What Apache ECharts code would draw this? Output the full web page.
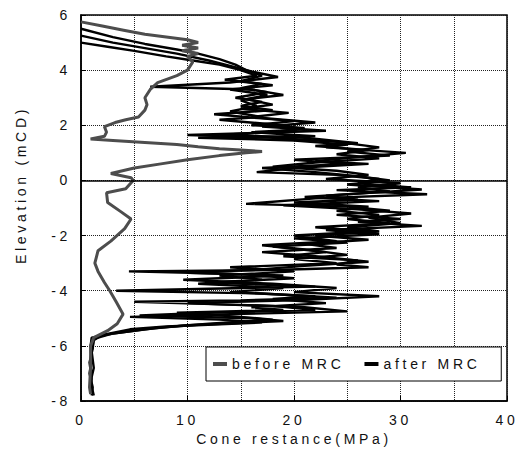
<!DOCTYPE html>
<html>
<head>
<meta charset="utf-8">
<script src="https://cdn.jsdelivr.net/npm/echarts@6/dist/echarts.min.js"></script>
<style>
  html, body { margin: 0; padding: 0; background: #fff; }
  #chart { width: 521px; height: 457px; }
  /* the scanned figure uses widely tracked lettering */
  #chart text { letter-spacing: 3.7px; }
</style>
</head>
<body>
<div id="chart"></div>
<script>
// [cone resistance (MPa), elevation (mCD)]
const beforeMRC = [
  [0, 5.75], [2, 5.6], [4, 5.45], [6, 5.3], [8, 5.2], [10, 5.1], [11, 5.0], [9.5, 4.9],
  [11, 4.8], [9.5, 4.7], [11, 4.6], [10, 4.5], [10.5, 4.3], [10, 4.0], [9, 3.8], [7.2, 3.55],
  [6.5, 3.3], [6, 3.0], [6.2, 2.75], [6, 2.55], [5.4, 2.3], [4.2, 2.2], [3.2, 2.1], [2.2, 1.95],
  [2.4, 1.75], [2.2, 1.6], [0.9, 1.5], [3, 1.45], [6, 1.38], [9, 1.3], [11, 1.22], [13, 1.15],
  [15, 1.1], [17, 1.05], [15.5, 1.0], [13, 0.9], [10, 0.75], [7.5, 0.6], [5, 0.45], [2.8, 0.25],
  [4.7, 0.1], [4.9, 0.0], [4.2, -0.3], [2.4, -0.45], [2.5, -0.8], [3.8, -1.15], [4.7, -1.4],
  [4.1, -1.75], [2.8, -2.2], [1.6, -2.55], [1.3, -3.0], [1.6, -3.3], [2.2, -3.7], [2.7, -4.0],
  [3.3, -4.4], [3.95, -4.85], [3.4, -5.2], [2.5, -5.45], [1.2, -5.7], [0.9, -6.0], [0.9, -6.8],
  [0.8, -7.5], [0.9, -7.75]
]

const afterMRC1 = [
  [0, 5.5], [3, 5.2], [6, 4.95], [9, 4.75], [11, 4.6], [13, 4.4], [14.5, 4.2], [15.5, 4.0],
  [17, 3.8], [15, 3.6], [18, 3.45], [14, 3.3], [17.5, 3.1], [15, 2.9], [16.5, 2.7], [14, 2.5],
  [17, 2.3], [13, 2.2], [19, 2.0], [21, 1.85], [16, 1.75], [22, 1.6], [11, 1.55], [20, 1.45],
  [25, 1.3], [23, 1.2], [30.5, 1.0], [26, 0.85], [22, 0.7], [27, 0.6], [20, 0.45], [16.5, 0.3],
  [24, 0.2], [28, 0.05], [26, -0.1], [31, -0.25], [24, -0.35], [32.5, -0.5], [22, -0.65],
  [15.5, -0.85], [25, -0.95], [29, -1.1], [24, -1.25], [30, -1.4], [26, -1.5], [32, -1.65],
  [23, -1.8], [28, -1.95], [20, -2.1], [25, -2.25], [18, -2.4], [23, -2.6], [19, -2.75],
  [26, -2.9], [24, -3.05], [27, -3.15], [18, -3.25], [4.5, -3.3], [15, -3.4], [20, -3.55],
  [12, -3.7], [22, -3.85], [3.3, -4.0], [17, -4.1], [24, -4.25], [15, -4.35], [5, -4.4],
  [18, -4.55], [22, -4.7], [12, -4.8], [5.5, -4.9], [16, -5.0], [19, -5.1], [10, -5.25],
  [6, -5.4], [3, -5.55], [1, -5.7], [0.9, -6.0], [1, -6.5], [0.8, -7.0], [1.1, -7.5], [1, -7.8]
]

const afterMRC2 = [
  [0, 5.25], [3, 5.0], [6, 4.8], [9, 4.6], [12, 4.35], [14, 4.15], [16, 3.95], [18.5, 3.75],
  [14, 3.55], [6.5, 3.4], [16, 3.3], [19, 3.1], [15.5, 2.95], [18, 2.75], [15, 2.6], [19.5, 2.45],
  [16, 2.3], [22, 2.1], [17, 1.95], [23, 1.8], [10, 1.65], [18, 1.55], [24, 1.4], [28, 1.2],
  [25, 1.05], [29, 0.9], [20, 0.75], [25, 0.6], [17, 0.45], [22, 0.3], [26, 0.15], [29, 0],
  [25, -0.15], [32, -0.33], [27, -0.45], [21, -0.6], [28, -0.75], [19, -0.9], [26, -1.05],
  [31, -1.2], [27, -1.35], [30, -1.55], [25, -1.7], [28, -1.85], [22, -2.0], [27, -2.15],
  [21, -2.3], [24, -2.45], [17, -2.6], [22, -2.75], [27, -2.95], [21, -3.1], [16, -3.25],
  [10, -3.35], [19, -3.45], [9.6, -3.6], [18, -3.75], [24, -3.9], [20, -4.05], [28, -4.2],
  [20, -4.35], [10, -4.45], [21, -4.6], [25, -4.75], [14, -4.85], [4.6, -4.95], [13, -5.05],
  [17, -5.15], [8, -5.3], [4.6, -5.4], [2, -5.6], [1.2, -5.8], [1, -6.2], [1.2, -6.8],
  [0.9, -7.3], [1.2, -7.8]
]

const afterMRC3 = [
  [0, 5.0], [2.5, 4.85], [5, 4.7], [8, 4.5], [10.5, 4.35], [13, 4.2], [15, 4.0], [16.5, 3.8],
  [13.5, 3.65], [17, 3.5], [15, 3.35], [17.5, 3.2], [14.5, 3.0], [17, 2.85], [15, 2.7], [18, 2.55],
  [12.5, 2.4], [17, 2.25], [20, 2.15], [16, 2.0], [21, 1.9], [18, 1.75], [13, 1.65], [21, 1.55],
  [26, 1.35], [22, 1.25], [27, 1.1], [24, 0.95], [28, 0.8], [22, 0.65], [18, 0.5], [24, 0.35],
  [27, 0.2], [23, 0.05], [30, -0.1], [26, -0.25], [29, -0.4], [23, -0.55], [26, -0.7], [20, -0.8],
  [27, -0.95], [24, -1.1], [28, -1.25], [25, -1.4], [29, -1.55], [22, -1.7], [27, -1.85],
  [20, -2.0], [24, -2.2], [17, -2.35], [21, -2.5], [25, -2.7], [20, -2.85], [24, -3.0],
  [14, -3.15], [20, -3.3], [13, -3.45], [17, -3.6], [11, -3.75], [19, -3.9], [14, -4.05],
  [22, -4.2], [18, -4.3], [23, -4.45], [16, -4.6], [19, -4.7], [9, -4.8], [15, -4.95],
  [18, -5.05], [12, -5.2], [7, -5.35], [3, -5.55], [1.2, -5.75], [1.1, -6.1], [0.8, -6.6],
  [1, -7.2], [0.9, -7.7]
]

const chart = echarts.init(document.getElementById('chart'), null, { renderer: 'svg' })

const dotted = { color: '#222', type: 'dotted', width: 1 }
const font = { fontFamily: 'Liberation Sans, Arial, sans-serif', fontSize: 14, color: '#111' }

const afterLine = (data) => ({
  name: 'after MRC',
  type: 'line',
  data: data,
  symbol: 'none',
  z: 3,
  lineStyle: { color: '#000', width: 2.4 },
  itemStyle: { color: '#000' }
})

chart.setOption({
  animation: false,
  backgroundColor: '#fff',
  grid: {
    left: 81, right: 14, top: 15, bottom: 56,
    show: true, borderColor: '#000', borderWidth: 1.5
  },
  legend: {
    left: 206, top: 347,
    padding: [10, 54, 10, 7],
    itemGap: 57,
    itemWidth: 14, itemHeight: 4,
    icon: 'rect',
    backgroundColor: '#fff',
    borderColor: '#000', borderWidth: 1,
    textStyle: font,
    data: ['before MRC', 'after MRC']
  },
  xAxis: {
    type: 'value', min: 0, max: 40, interval: 10,
    name: 'Cone restance(MPa)', nameLocation: 'middle', nameGap: 30,
    nameTextStyle: font,
    axisLine: { show: true, onZero: false, lineStyle: { color: '#000', width: 1.5 } },
    axisTick: { show: true, inside: true, length: 5, lineStyle: { color: '#000' } },
    axisLabel: Object.assign({ margin: 12 }, font),
    splitLine: { show: true, lineStyle: dotted },
    minorTick: { show: false, splitNumber: 2 },
    minorSplitLine: { show: true, lineStyle: dotted }
  },
  yAxis: {
    type: 'value', min: -8, max: 6, interval: 2,
    name: 'Elevation (mCD)', nameLocation: 'middle', nameGap: 53,
    nameTextStyle: Object.assign({ padding: [0, 0, 0, 46] }, font),
    axisLine: { show: true, onZero: false, lineStyle: { color: '#000', width: 1.5 } },
    axisTick: { show: true, inside: true, length: 5, lineStyle: { color: '#000' } },
    axisLabel: Object.assign({ margin: 10 }, font),
    splitLine: { show: true, lineStyle: dotted }
  },
  series: [
    {
      name: 'before MRC',
      type: 'line',
      data: beforeMRC,
      symbol: 'none',
      z: 4,
      lineStyle: { color: '#4d4d4d', width: 3 },
      itemStyle: { color: '#4d4d4d' },
      markLine: {
        silent: true, symbol: 'none', label: { show: false },
        lineStyle: { color: '#000', type: 'solid', width: 1.5 },
        data: [{ yAxis: 0 }]
      }
    },
    afterLine(afterMRC1),
    afterLine(afterMRC2),
    afterLine(afterMRC3)
  ]
})
</script>
</body>
</html>
